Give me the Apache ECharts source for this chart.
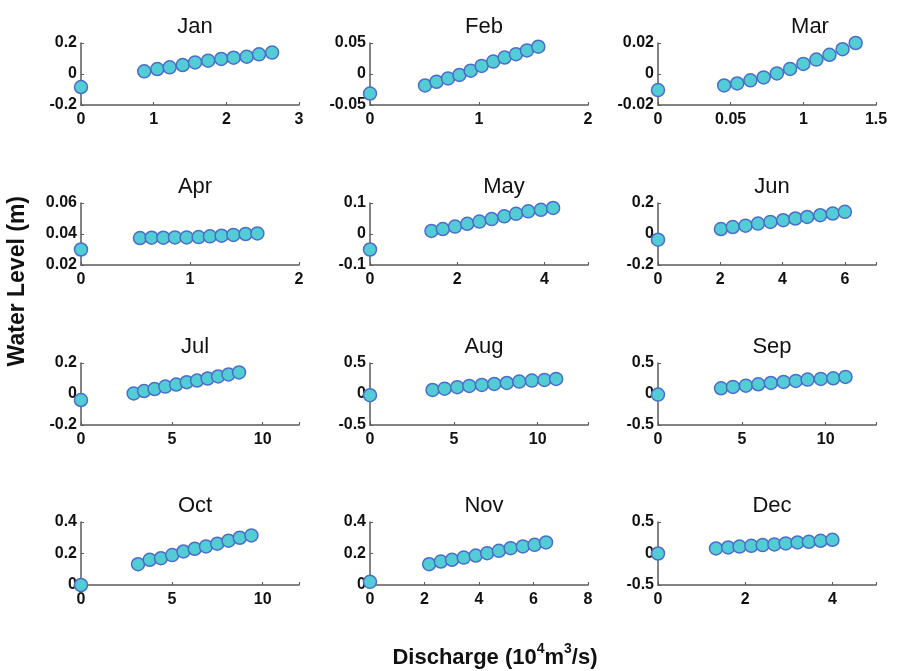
<!DOCTYPE html>
<html>
<head>
<meta charset="utf-8">
<script src="https://cdn.jsdelivr.net/npm/echarts@6/dist/echarts.min.js"></script>
<style>
    html, body { margin: 0; padding: 0; background: #fff; }
    #chart { width: 900px; height: 671px; }
</style>
</head>
<body>
<div id="chart"></div>
<script>
// month names
var months = ['Jan', 'Feb', 'Mar', 'Apr', 'May', 'Jun', 'Jul', 'Aug', 'Sep', 'Oct', 'Nov', 'Dec'];

// discharge (10^4 m3/s) and water level (m)
var qJan = [0, 0.87, 1.05, 1.22, 1.40, 1.57, 1.75, 1.93, 2.10, 2.28, 2.45, 2.63];
var hJan = [-0.084, 0.017, 0.032, 0.043, 0.058, 0.075, 0.086, 0.097, 0.105, 0.112, 0.127, 0.138];
var qFeb = [0, 0.505, 0.61, 0.716, 0.82, 0.924, 1.024, 1.131, 1.235, 1.339, 1.44, 1.544];
var hFeb = [-0.0315, -0.0185, -0.0125, -0.0071, -0.0016, 0.0054, 0.013, 0.020, 0.0266, 0.032, 0.038, 0.044];
var qMar = [0, 0.455, 0.545, 0.636, 0.727, 0.818, 0.909, 1.0, 1.09, 1.18, 1.27, 1.36];
var hMar = [-0.0104, -0.0074, -0.0061, -0.0041, -0.0022, 0.0004, 0.0033, 0.0065, 0.0093, 0.0124, 0.016, 0.020];
var qApr = [0, 0.541, 0.648, 0.755, 0.862, 0.969, 1.079, 1.183, 1.29, 1.398, 1.51, 1.618];
var hApr = [0.030, 0.0374, 0.0376, 0.0376, 0.0378, 0.0378, 0.038, 0.0385, 0.0389, 0.0394, 0.040, 0.0404];
var qMay = [0, 1.41, 1.67, 1.95, 2.23, 2.51, 2.79, 3.08, 3.35, 3.63, 3.92, 4.20];
var hMay = [-0.05, 0.0098, 0.016, 0.024, 0.033, 0.040, 0.048, 0.057, 0.065, 0.073, 0.078, 0.084];
var qJun = [0, 2.02, 2.40, 2.81, 3.21, 3.61, 4.02, 4.41, 4.79, 5.21, 5.61, 6.0];
var hJun = [-0.037, 0.032, 0.045, 0.054, 0.067, 0.078, 0.089, 0.10, 0.11, 0.121, 0.132, 0.143];
var qJul = [0, 2.90, 3.47, 4.05, 4.64, 5.24, 5.82, 6.39, 6.97, 7.55, 8.12, 8.70];
var hJul = [-0.039, 0.004, 0.019, 0.032, 0.048, 0.061, 0.076, 0.087, 0.10, 0.113, 0.126, 0.139];
var qAug = [0, 3.73, 4.45, 5.2, 5.92, 6.67, 7.41, 8.16, 8.9, 9.65, 10.4, 11.1];
var hAug = [-0.02, 0.065, 0.086, 0.11, 0.13, 0.146, 0.162, 0.178, 0.2, 0.216, 0.227, 0.243];
var qSep = [0, 3.76, 4.47, 5.24, 5.98, 6.73, 7.49, 8.22, 8.92, 9.71, 10.45, 11.18];
var hSep = [-0.01, 0.092, 0.114, 0.135, 0.157, 0.178, 0.195, 0.211, 0.232, 0.243, 0.254, 0.276];
var qOct = [0, 3.14, 3.78, 4.40, 5.02, 5.64, 6.26, 6.88, 7.50, 8.12, 8.74, 9.38];
var hOct = [0, 0.132, 0.16, 0.17, 0.19, 0.213, 0.23, 0.245, 0.262, 0.281, 0.30, 0.315];
var qNov = [0, 2.17, 2.6, 3.01, 3.44, 3.88, 4.3, 4.73, 5.16, 5.61, 6.04, 6.46];
var hNov = [0.02, 0.132, 0.149, 0.16, 0.174, 0.187, 0.202, 0.217, 0.234, 0.245, 0.255, 0.27];
var qDec = [0, 1.33, 1.61, 1.87, 2.14, 2.40, 2.67, 2.93, 3.20, 3.46, 3.73, 4.0];
var hDec = [0, 0.08, 0.096, 0.11, 0.122, 0.133, 0.144, 0.16, 0.175, 0.186, 0.202, 0.218];

// axis ranges / ticks per panel
var xMax  = [3, 2, 1.5, 2, 5, 7, 12, 13, 13, 12, 8, 5];
var xStep = [1, 1, 0.5, 1, 2, 2, 5, 5, 5, 5, 2, 2];
var yMin  = [-0.2, -0.05, -0.02, 0.02, -0.1, -0.2, -0.2, -0.5, -0.5, 0, 0, -0.5];
var yMax  = [0.2, 0.05, 0.02, 0.06, 0.1, 0.2, 0.2, 0.5, 0.5, 0.4, 0.4, 0.5];
var yStep = [0.2, 0.05, 0.02, 0.02, 0.1, 0.2, 0.2, 0.5, 0.5, 0.2, 0.2, 0.5];
// the Mar panel prints 0.5 as "0.05"
var marXLabels = {'0.5': '0.05'};

var discharge = [qJan, qFeb, qMar, qApr, qMay, qJun, qJul, qAug, qSep, qOct, qNov, qDec];
var level = [hJan, hFeb, hMar, hApr, hMay, hJun, hJul, hAug, hSep, hOct, hNov, hDec];

// layout
var colLeft = [81, 370, 658];
var rowTop = [43, 203, 363, 522];
var gridW = 218;
var gridH = 62;
var titleShift = [0, 0, 38, 0, 20, 0, 0, 0, 0, 0, 0, 0];

var axisColor = '#5a5a5a';
var font = 'Liberation Sans, Arial, sans-serif';

function fmt(v) {
    return String(parseFloat(v.toFixed(4)));
}

var grids = [], xAxes = [], yAxes = [], series = [], titles = [];

months.forEach(function (m, i) {
    var left = colLeft[i % 3];
    var top = rowTop[Math.floor(i / 3)];
    var h = i >= 9 ? gridH + 1 : gridH;

    grids.push({left: left, top: top, width: gridW, height: h});

    titles.push({
        text: m,
        left: left + gridW / 2 + titleShift[i],
        top: top - 32,
        textAlign: 'center',
        textStyle: {fontFamily: font, fontSize: 22, fontWeight: 'normal', color: '#111'}
    });

    (function (idx) {
        xAxes.push({
            type: 'value',
            gridIndex: idx,
            min: 0,
            max: xMax[idx],
            interval: xStep[idx],
            splitLine: {show: false},
            axisLine: {onZero: false, lineStyle: {color: axisColor, width: 1.5}},
            axisTick: {inside: true, length: 3, lineStyle: {color: axisColor}},
            axisLabel: {
                color: '#111',
                fontFamily: font,
                fontSize: 16,
                fontWeight: 'bold',
                margin: 7,
                formatter: function (v) {
                    var r = v / xStep[idx];
                    if (Math.abs(r - Math.round(r)) > 1e-6) return '';
                    if (idx === 2 && marXLabels[fmt(v)]) return marXLabels[fmt(v)];
                    return fmt(v);
                }
            }
        });
    })(i);

    yAxes.push({
        type: 'value',
        gridIndex: i,
        min: yMin[i],
        max: yMax[i],
        interval: yStep[i],
        splitLine: {show: false},
        axisLine: {onZero: false, lineStyle: {color: axisColor, width: 1.5}},
        axisTick: {inside: true, length: 3, lineStyle: {color: axisColor}},
        axisLabel: {
            color: '#111',
            fontFamily: font,
            fontSize: 16,
            fontWeight: 'bold',
            margin: 4,
            formatter: fmt
        }
    });

    series.push({
        type: 'scatter',
        xAxisIndex: i,
        yAxisIndex: i,
        clip: false,
        symbol: 'circle',
        symbolSize: 13,
        itemStyle: {color: '#52cdd5', borderColor: '#4c6cc9', borderWidth: 1.5, opacity: 1},
        data: discharge[i].map(function (q, k) { return [q, level[i][k]]; })
    });
});

titles.push({
    text: '{a|Discharge (10}{s|4}{a|m}{s|3}{a|/s)}',
    left: 490,
    top: 636,
    textAlign: 'center',
    textStyle: {
        rich: {
            a: {fontFamily: font, fontSize: 22, fontWeight: 'bold', color: '#111', verticalAlign: 'bottom', lineHeight: 28},
            s: {fontFamily: font, fontSize: 14, fontWeight: 'bold', color: '#111', verticalAlign: 'bottom', lineHeight: 28, padding: [0, 0, 13, 0]}
        }
    }
});

var chart = echarts.init(document.getElementById('chart'), null, {renderer: 'canvas'});

var option = {
    backgroundColor: '#fff',
    animation: false,
    title: titles,
    grid: grids,
    xAxis: xAxes,
    yAxis: yAxes,
    series: series,
    graphic: [{
        type: 'text',
        left: 6,
        top: 196,
        rotation: Math.PI / 2,
        style: {
            text: 'Water Level (m)',
            fontFamily: font,
            fontSize: 23,
            fontWeight: 'bold',
            fill: '#111'
        }
    }]
};

chart.setOption(option);
</script>
</body>
</html>
